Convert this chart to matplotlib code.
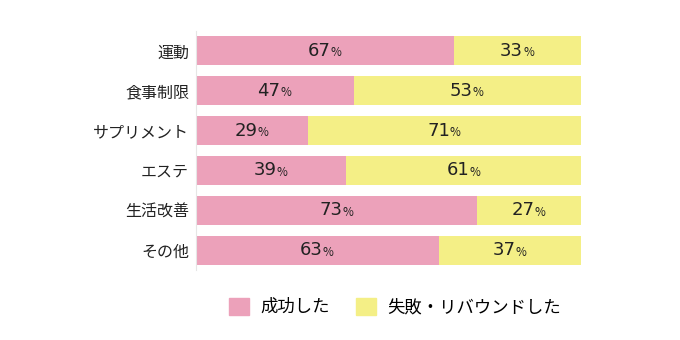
import numpy as np
import matplotlib.pyplot as plt
from matplotlib.patches import Patch

plt.rcParams['font.family'] = ['Noto Sans CJK JP', 'DejaVu Sans']

# data (bar lengths as drawn; the printed labels are kept separately,
# since the 食事制限 bar in the picture is shorter than its 47% label)
categories = ['運動', '食事制限', 'サプリメント', 'エステ', '生活改善', 'その他']
success_bar = [67, 41, 29, 39, 73, 63]
success_lbl = [67, 47, 29, 39, 73, 63]
fail_lbl = [33, 53, 71, 61, 27, 37]
labels = ['成功した', '失敗・リバウンドした']

pink = '#eca1ba'
yellow = '#f4ef86'

fig = plt.figure(figsize=(6.8, 3.4), dpi=100)
ax = fig.add_axes([196/680, 1-270/340, (581-196)/680, (270-31)/340])

y = np.arange(len(categories))
fail_bar = [100 - v for v in success_bar]
ax.barh(y, success_bar, height=0.73, color=pink)
ax.barh(y, fail_bar, left=success_bar, height=0.73, color=yellow)

def pct(x, yy, v):
    ax.annotate(str(v), (x, yy), xytext=(4, 0), textcoords='offset points',
                ha='right', va='center', fontsize=13, color='#222222',
                family='DejaVu Sans')
    ax.annotate('%', (x, yy), xytext=(4, -1.5), textcoords='offset points',
                ha='left', va='center', fontsize=8.5, color='#222222')

for i in range(len(categories)):
    pct(success_bar[i] / 2, y[i], success_lbl[i])
    pct(success_bar[i] + fail_bar[i] / 2, y[i], fail_lbl[i])

ax.set_xlim(0, 100)
ax.set_ylim(5.5, -0.5)
ax.set_yticks(y)
ax.set_yticklabels(categories, fontsize=11.5, color='#222222')
ax.tick_params(axis='y', length=0, pad=5)
ax.set_xticks([])
for s in ['top', 'right', 'bottom']:
    ax.spines[s].set_visible(False)
ax.spines['left'].set_color('#e6e6e6')
ax.spines['left'].set_linewidth(0.8)

handles = [Patch(color=pink), Patch(color=yellow)]
fig.legend(handles, labels, loc='center', bbox_to_anchor=(395/680, 1-307/340),
           ncol=2, frameon=False, fontsize=12.5, handlelength=1.15, handleheight=1.15,
           handletextpad=0.63, columnspacing=1.5)

fig.savefig('out.png', dpi=100)
